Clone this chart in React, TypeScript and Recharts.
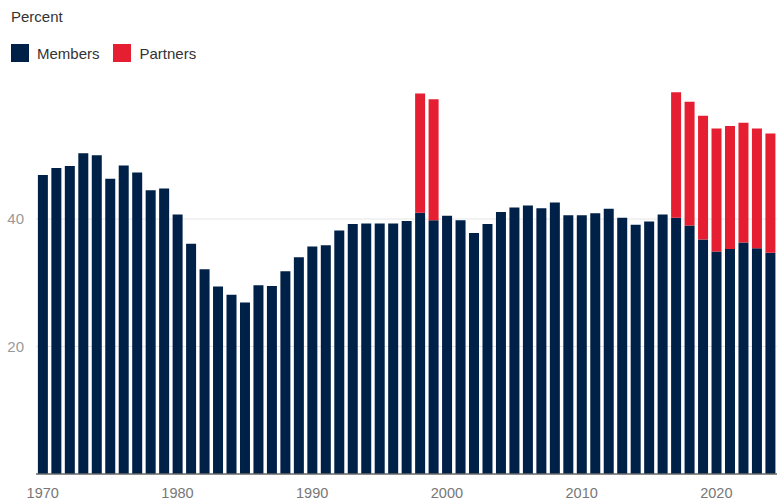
import React from "react";
import { BarChart, Bar, XAxis, YAxis, CartesianGrid } from "recharts";

const years = [
  1970, 1971, 1972, 1973, 1974, 1975, 1976, 1977, 1978, 1979,
  1980, 1981, 1982, 1983, 1984, 1985, 1986, 1987, 1988, 1989,
  1990, 1991, 1992, 1993, 1994, 1995, 1996, 1997, 1998, 1999,
  2000, 2001, 2002, 2003, 2004, 2005, 2006, 2007, 2008, 2009,
  2010, 2011, 2012, 2013, 2014, 2015, 2016, 2017, 2018, 2019,
  2020, 2021, 2022, 2023, 2024,
];

const members = [
  46.9, 48.0, 48.3, 50.3, 50.0, 46.3, 48.4, 47.3, 44.5, 44.8,
  40.7, 36.1, 32.1, 29.4, 28.1, 26.9, 29.6, 29.5, 31.8, 34.0,
  35.7, 35.9, 38.2, 39.2, 39.3, 39.3, 39.3, 39.7, 41.0, 39.8,
  40.5, 39.8, 37.8, 39.2, 41.1, 41.8, 42.1, 41.7, 42.6, 40.6,
  40.6, 40.9, 41.6, 40.2, 39.1, 39.6, 40.7, 40.2, 39.0, 36.8,
  34.9, 35.3, 36.3, 35.4, 34.7,
];

const partners = [
  null, null, null, null, null, null, null, null, null, null,
  null, null, null, null, null, null, null, null, null, null,
  null, null, null, null, null, null, null, null, 18.7, 19.0,
  null, null, null, null, null, null, null, null, null, null,
  null, null, null, null, null, null, null, 19.7, 19.4, 19.4,
  19.3, 19.3, 18.8, 18.8, 18.7,
];

const xTickYears = [1970, 1980, 1990, 2000, 2010, 2020];
const yTicks = [20, 40];

const seriesNames = { members: "Members", partners: "Partners" };
const colors = { members: "#002147", partners: "#e61e32" };

const data = years.map((y, i) => ({
  year: y,
  members: members[i],
  partners: partners[i],
}));

const font = "'Liberation Sans', Arial, Helvetica, sans-serif";

export default function App() {
  return (
    <div
      style={{
        position: "absolute",
        left: 0,
        top: 0,
        width: 784,
        height: 501,
        background: "#fff",
        fontFamily: font,
      }}
    >
      <div
        style={{
          position: "absolute",
          left: 11,
          top: 8,
          fontSize: 15,
          color: "#333",
        }}
      >
        Percent
      </div>
      <div
        style={{
          position: "absolute",
          left: 11,
          top: 44,
          display: "flex",
          alignItems: "center",
          fontSize: 15,
          color: "#333",
        }}
      >
        <span
          style={{
            display: "inline-block",
            width: 18,
            height: 18,
            background: colors.members,
            marginRight: 8,
          }}
        />
        <span style={{ marginRight: 13 }}>{seriesNames.members}</span>
        <span
          style={{
            display: "inline-block",
            width: 18,
            height: 18,
            background: colors.partners,
            marginRight: 9,
          }}
        />
        <span>{seriesNames.partners}</span>
      </div>
      <BarChart
        width={784}
        height={501}
        data={data}
        margin={{ top: 91.5, right: 7, left: 0, bottom: 0 }}
        barCategoryGap="14%"
      >
        <CartesianGrid
          vertical={false}
          horizontalValues={yTicks}
          stroke="#e6e6e6"
          strokeWidth={1}
        />
        <XAxis
          dataKey="year"
          interval={0}
          height={27}
          tickLine={false}
          axisLine={{ stroke: "#666", strokeWidth: 1.5 }}
          tick={{ fill: "#777", fontSize: 14.5, fontFamily: font }}
          tickMargin={8}
          tickFormatter={(v: number) => (xTickYears.includes(v) ? String(v) : "")}
        />
        <YAxis
          width={36}
          domain={[0, 60]}
          ticks={yTicks}
          axisLine={false}
          tickLine={false}
          tick={{ fill: "#999", fontSize: 15, fontFamily: font }}
          tickMargin={6}
        />
        <Bar
          dataKey="members"
          stackId="a"
          fill={colors.members}
          isAnimationActive={false}
        />
        <Bar
          dataKey="partners"
          stackId="a"
          fill={colors.partners}
          isAnimationActive={false}
        />
      </BarChart>
    </div>
  );
}
